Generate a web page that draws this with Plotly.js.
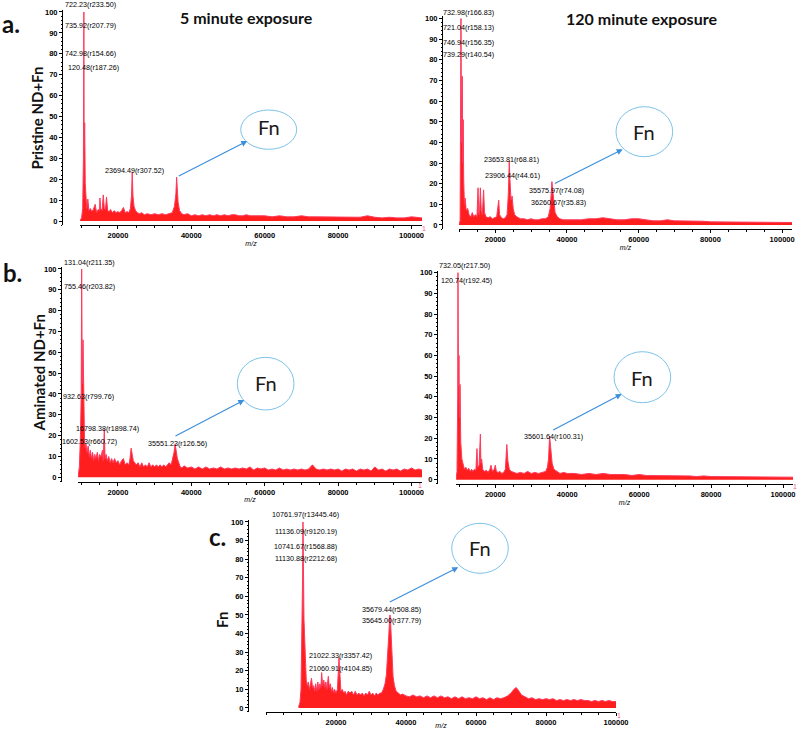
<!DOCTYPE html>
<html><head><meta charset="utf-8">
<script src="https://cdn.plot.ly/plotly-3.0.1.min.js"></script>
<style>html,body{margin:0;padding:0;background:#fff}#chart{width:797px;height:729px}</style>
</head><body><div id="chart"></div>
<script>
// ---------------- DATA: [m/z, relative intensity %] ----------------
const pristine5min = [
[9700,0.3],[10100,1.5],[10400,6],[10600,30],[10722,100],[10800,35],[10950,47],[11100,18],[11300,8],[11500,6],
[11800,10.5],[12100,5],[12500,6],[12900,4.5],[13300,5.5],[13800,8],[14200,4],[14600,5.5],[15000,5],[15100,11],
[15300,6],[15700,5],[16000,12.5],[16300,6],[16600,5.5],[16900,11.5],[17200,5],[17600,4.5],[18000,5.5],[18500,4],
[19000,5],[19500,4],[20000,4.5],[20500,4],[21000,5],[21500,6.5],[22000,4],[22500,4.5],[23000,4],[23400,6],
[23700,12],[23900,23.5],[24100,12],[24400,7],[24800,5],[25300,4],[25900,3.5],[26500,4],[27200,3],[28000,3.5],
[29000,3],[30000,3.5],[31000,3],[32000,3.5],[33000,3],[34000,3.5],[34800,4],[35400,7],[35800,13],[36000,21],
[36150,13],[36400,9],[36800,5],[37400,3.5],[38000,3],[39000,3.5],[40000,2.5],[41000,3],[42000,2.5],[43000,3],
[44000,2.5],[45000,3],[46000,2.5],[47000,3],[48000,2.5],[49000,3],[50000,2.5],[51000,3],[52000,3],[53000,2.5],
[54000,2.5],[55000,3],[56000,2.5],[57000,2.5],[58000,2.5],[60000,2.5],[62000,2],[64000,2.5],[66000,2],[68000,2],
[70000,2.5],[72000,2],[74000,2],[76000,2],[78000,2],[80000,2],[82000,1.8],[84000,2],[86000,1.8],[88000,2.5],
[90000,1.8],[92000,1.5],[94000,1.8],[96000,1.5],[98000,1.5],[100000,2],[102000,1.5],[102860,1.5]
];
const pristine120min = [
[9900,0.3],[10200,2],[10440,100],[10600,40],[10800,72],[10950,30],[11070,51],[11200,22],[11400,10],[11600,13],
[11900,7],[12300,8],[12700,5],[13200,4],[13600,6],[14000,4],[14500,5],[14900,4],[15200,18],[15400,6],
[15600,5],[15850,18],[16100,7],[16400,5],[16750,17],[17000,6],[17400,4],[18000,3.5],[18600,4],[19200,3],
[19800,3.5],[20400,4],[20970,12],[21200,5],[21700,3.5],[22300,3],[22800,3.5],[23300,5],[23650,15],[23900,31],
[24100,22],[24400,12],[24700,14],[25000,8],[25400,5],[26000,4],[27000,3],[28000,3],[29000,2.5],[30000,3],
[31000,2.5],[32000,2.5],[33000,3],[34000,3],[34800,4],[35300,8],[35600,15],[35800,21],[36000,17],[36300,12],
[36700,6],[37300,4],[38000,3],[39000,2.5],[40000,2.5],[42000,2.5],[44000,2.5],[46000,3],[48000,3],[50000,3.5],
[52000,3],[54000,2.5],[56000,2.5],[58000,3],[60000,3],[62000,2.5],[64000,2],[66000,2],[68000,2.5],[70000,2],
[72000,2],[74000,1.8],[76000,1.8],[78000,1.8],[80000,1.5],[84000,1.5],[88000,1.5],[92000,1.5],[96000,1.3],[100000,1.5],
[102750,1.2]
];
const aminated5min = [
[9150,0.5],[9500,5],[9800,20],[10000,40],[10130,100],[10300,45],[10500,66],[10700,30],[10900,18],[11100,14],
[11300,16],[11600,12],[11900,15],[12200,10],[12500,13],[12800,9],[13100,12],[13400,8],[13700,11],[14000,9],
[14400,12],[14700,8],[15000,11],[15400,10],[15800,13],[16000,8],[16300,23],[16500,9],[16800,11],[17100,8],
[17500,10],[17900,7],[18300,9],[18700,7],[19100,9],[19500,7],[20000,8],[20500,6],[21000,8],[21500,9],
[22000,6],[22500,7],[23000,6],[23300,9],[23600,14],[23900,11],[24200,8],[24600,7],[25000,6],[25500,7],
[26000,5],[26500,7],[27000,5],[27500,6],[28000,5],[28500,7],[29000,5],[29500,6],[30000,5],[30500,6],
[31000,5],[31500,6],[32000,5],[32500,6],[33000,5],[33500,6],[34000,7],[34500,6],[35000,9],[35300,12],
[35600,16],[35900,12],[36200,9],[36600,7],[37000,5],[37500,4.5],[38000,5.5],[39000,4.5],[40000,5],[41000,4],
[42000,5],[43000,4],[44000,5],[45000,4],[46000,4.5],[47000,4],[48000,5],[49000,4],[50000,4.5],[51000,4],
[52000,4.5],[53000,4],[54000,4.5],[55000,4],[56000,5],[57000,3.5],[58000,4.5],[59000,4],[60000,4.5],[61000,3.5],
[62000,4],[63000,3.5],[64000,4.5],[65000,3.5],[66000,4],[67000,3.5],[68000,4],[69000,3.5],[70000,4],[71000,3.5],
[72000,4],[73000,6],[74000,4],[75000,3.5],[76000,4],[77000,3.5],[78000,4],[79000,3.5],[80000,4],[81000,3],
[82000,4],[83000,3.5],[84000,4],[85000,3],[86000,4],[87000,3.5],[88000,4],[89000,3],[90000,5],[91000,3.5],
[92000,4],[93000,3],[94000,4],[95000,3.5],[96000,4],[97000,3],[98000,4],[99000,3.5],[100000,4.5],[101000,3.5],
[102000,4],[102860,3.5]
];
const aminated120min = [
[9100,0.5],[9350,4],[9550,40],[9620,100],[9750,45],[9900,60],[10050,30],[10200,46],[10400,18],[10700,10],
[11000,7],[11400,5],[11800,6],[12200,4.5],[12600,5.5],[13000,4],[13400,5],[13800,4],[14200,5],[14600,4.5],
[14900,15],[15100,6],[15500,7],[15850,22],[16000,8],[16200,10],[16500,5],[17000,4],[17500,4.5],[18000,3.5],
[18500,5],[18800,7],[19200,4],[19700,5],[20000,7],[20300,4],[20800,3.5],[21300,4],[21800,3],[22300,3.5],
[22800,5],[23200,17],[23500,9],[23900,5],[24400,4],[25000,3.5],[26000,3],[27000,3.5],[28000,3],[29000,4],
[30000,3],[31000,3.5],[32000,3],[33000,3.5],[34000,4],[34500,6],[34800,10],[35100,21],[35400,14],[35800,8],
[36300,5],[37000,4],[38000,3],[39000,3.5],[40000,3],[42000,3],[44000,2.5],[46000,3],[48000,2.5],[50000,3],
[52000,2.5],[54000,2.5],[56000,2.5],[58000,2],[60000,2.5],[62000,2],[64000,2],[66000,2],[68000,1.8],[70000,2],
[72000,1.8],[74000,1.8],[76000,1.5],[78000,1.8],[80000,1.5],[84000,1.5],[88000,1.5],[92000,1.3],[96000,1.3],[100000,1.2],
[102780,1.2]
];
const fnOnly = [
[9300,0.5],[9700,3],[10000,10],[10300,40],[10450,70],[10570,100],[10700,55],[10850,48],[11000,40],[11200,25],
[11500,15],[11800,12],[12100,14],[12400,10],[12700,13],[13000,16],[13300,11],[13600,12],[13900,9],[14200,13],
[14500,9],[14800,14],[15100,10],[15400,13],[15700,11],[15900,19],[16200,12],[16500,15],[16800,11],[17100,14],
[17400,10],[17800,17],[18100,11],[18400,13],[18700,9],[19000,11],[19300,8],[19600,10],[20000,8],[20400,10],
[20860,27],[21100,14],[21400,9],[21800,10],[22200,8],[22600,9],[23000,7],[23500,9],[24000,8],[24500,9],
[25000,7],[25500,9],[26000,7],[26500,8],[27000,7],[27500,8],[28000,6.5],[28500,8],[29000,7],[29500,9],
[30000,7],[30500,8],[31000,6.5],[31500,8],[32000,7],[32500,8],[33000,8],[33500,10],[34000,13],[34400,18],
[34800,28],[35100,40],[35300,47],[35400,50],[35550,48],[35750,38],[36000,26],[36300,17],[36700,12],[37200,9],
[37800,8],[38500,7],[39000,7.5],[40000,6.5],[41000,6],[42000,7],[43000,6],[44000,6.5],[45000,5.5],[46000,6.5],
[47000,5.5],[48000,6.5],[49000,5.5],[50000,6.5],[51000,5.5],[52000,6],[53000,5],[54000,6],[55000,5],[56000,6],
[57000,5],[58000,5.5],[59000,5],[60000,6],[61000,5],[62000,5.5],[63000,4.5],[64000,5.5],[65000,4.5],[66000,5.5],
[67000,5],[68000,5.5],[69000,6.5],[70000,8],[70800,10],[71500,11],[72300,9],[73000,7],[74000,6],[75000,5],
[76000,5.5],[77000,4.5],[78000,5],[79000,4.5],[80000,5],[81000,4.5],[82000,5],[83000,4],[84000,4.5],[85000,4],
[86000,4.5],[87000,4],[88000,4.5],[89000,4],[90000,4.5],[91000,4],[92000,4],[93000,3.5],[94000,4],[95000,3.5],
[96000,4],[97000,3.5],[98000,4],[99000,3.5],[100000,3.5]
];
const yTickVals = [0,10,20,30,40,50,60,70,80,90,100];
const xTickVals = [20000,40000,60000,80000,100000];
const labelsPristine5 = ["722.23(r233.50)","735.92(r207.79)","742.98(r154.66)","120.48(r187.26)","23694.49(r307.52)"];
const labelsPristine120 = ["732.98(r166.83)","721.04(r158.13)","746.94(r156.35)","739.29(r140.54)","23653.81(r68.81)","23906.44(r44.61)","35575.97(r74.08)","36260.67(r35.83)"];
const labelsAminated5 = ["131.04(r211.35)","755.46(r203.82)","932.63(r799.76)","16798.38(r1898.74)","1602.53(r660.72)","35551.23(r126.56)"];
const labelsAminated120 = ["732.05(r217.50)","120.74(r192.45)","35601.64(r100.31)"];
const labelsFn = ["10761.97(r13445.46)","11136.09(r9120.19)","10741.67(r1568.88)","11130.88(r2212.68)","35679.44(r508.85)","35645.00(r377.79)","21022.33(r3357.42)","21060.91(r4104.85)"];

// ---------------- LAYOUT (pixel geometry) ----------------
const W = 797, H = 729;
const px = v => v / W, py = v => 1 - v / H;
const tickFont = {family:'Arial, Liberation Sans, sans-serif', size:7.5, color:'#000', weight:'bold'};
const lblFont = {family:'Arial, Liberation Sans, sans-serif', size:7.2, color:'#000'};

function xAxis(d0, d1, r0, r1, anchor) {
  return {domain:[px(d0), px(d1)], range:[r0, r1], anchor:anchor,
    showline:true, linecolor:'#000', linewidth:1, ticks:'outside', ticklen:3, tickwidth:1, tickcolor:'#000',
    tickvals:xTickVals, ticktext:xTickVals.map(String), ticklabeloverflow:'allow',
    showgrid:false, zeroline:false, tickfont:tickFont,
    minor:{ticks:'outside', ticklen:2, dtick:5000, tick0:0, tickcolor:'#000', showgrid:false},
    title:{text:'<i>m/z</i>', font:{family:'Arial, sans-serif', size:7, color:'#000'}, standoff:0},
    fixedrange:true};
}
function yAxis(bot, top, pos) {
  return {domain:[py(bot), py(top)], range:[-2, 101], anchor:'free', position:px(pos),
    showline:true, linecolor:'#000', linewidth:1, ticks:'outside', ticklen:3, tickwidth:1, tickcolor:'#000',
    tickvals:yTickVals, ticktext:yTickVals.map(String), showgrid:false, zeroline:false, tickfont:tickFont,
    minor:{ticks:'outside', ticklen:1.5, dtick:2, tick0:0, tickcolor:'#000', showgrid:false},
    fixedrange:true};
}

const series = [pristine5min, pristine120min, aminated5min, aminated120min, fnOnly];
const traces = series.map((s, i) => ({
  type:'scatter', mode:'lines', x:s.map(p => p[0]), y:s.map(p => p[1]),
  xaxis:'x' + (i ? i + 1 : ''), yaxis:'y' + (i ? i + 1 : ''),
  fill:'tozeroy', fillcolor:'#ff1e1e', line:{color:'#ff3a5c', width:1}, hoverinfo:'skip', showlegend:false
}));

const annotations = [];
function txt(t, x, y, font, opts) {
  annotations.push(Object.assign({text:t, xref:'paper', yref:'paper', x:px(x), y:py(y),
    xanchor:'left', yanchor:'middle', showarrow:false, font:font}, opts || {}));
}
// peak labels
const pkPos = [
  [labelsPristine5, [[62.5,4.5],[62.5,26],[63,53.5],[65.5,67.7],[102.7,171]]],
  [labelsPristine120, [[440.7,12.3],[440.7,27.3],[440.7,42.7],[440.7,54],[482.3,159.3],[483.3,175],[526.7,191],[529.3,202.7]]],
  [labelsAminated5, [[62.3,262.3],[62,286],[61,396.7],[74,428.3],[60,441],[145.7,443]]],
  [labelsAminated120, [[436.7,265],[439.3,280.7],[521.7,436.7]]],
  [labelsFn, [[270,514.3],[272.7,531.7],[271.7,546.7],[272.7,558.3],[360,609],[360,620],[306.7,655.7],[306.7,668.3]]]
];
pkPos.forEach(([labels, pos]) => labels.forEach((t, i) => txt(t, pos[i][0], pos[i][1], lblFont)));

// panel letters, titles, y titles
const bigFont = {family:'Lato, Open Sans, sans-serif', size:24, color:'#111', weight:'bold'};
txt('a.', 0, 23, bigFont);
txt('b.', 1, 273, bigFont);
txt('c.', 207, 536, bigFont);
const titleFont = {family:'Lato, Open Sans, sans-serif', size:16, color:'#111', weight:'bold'};
txt('5 minute exposure', 246.5, 17, titleFont, {xanchor:'center'});
txt('120 minute exposure', 641.5, 18, titleFont, {xanchor:'center'});
const yTitleFont = {family:'Lato, Open Sans, sans-serif', size:15, color:'#111', weight:'bold'};
txt('Pristine ND+Fn', 37, 118.5, yTitleFont, {xanchor:'center', textangle:-90});
txt('Aminated ND+Fn', 38, 373.5, yTitleFont, {xanchor:'center', textangle:-90});
txt('Fn', 222, 620, yTitleFont, {xanchor:'center', textangle:-90});

// pink end markers
const pinkFont = {family:'Arial, sans-serif', size:7, color:'#f06090'};
txt('1', 420, 228, pinkFont);
txt('1', 416.5, 485, pinkFont);
txt('1', 790.5, 486.5, pinkFont);
txt('1', 615, 715, pinkFont);

// Fn callouts: circle bbox, label centre, arrow tail -> head
const callouts = [
  {c:[240.7,110,296.7,149.3], t:[268.5,127], tail:[177.3,176.7], head:[247.3,141]},
  {c:[616,106.7,672.7,156.7], t:[644,132], tail:[553.3,184.3], head:[622.7,149.3]},
  {c:[237.3,357.3,294,410], t:[266,383.5], tail:[174,436.7], head:[244.3,400]},
  {c:[614,351.7,670.7,402.7], t:[642.3,377.5], tail:[551.7,430.7], head:[621.7,394]},
  {c:[451.7,523.3,508.3,573.3], t:[480,548], tail:[388.3,602.7], head:[458.3,567.3]}
];
const shapes = [];
const fnFont = {family:'Lato, Open Sans, sans-serif', size:20, color:'#1a1a1a'};
callouts.forEach(o => {
  shapes.push({type:'circle', xref:'paper', yref:'paper', x0:px(o.c[0]), x1:px(o.c[2]), y0:py(o.c[3]), y1:py(o.c[1]),
    line:{color:'#7cc3ea', width:1}, fillcolor:'rgba(0,0,0,0)'});
  txt('Fn', o.t[0], o.t[1], fnFont, {xanchor:'center'});
  annotations.push({text:'', xref:'paper', yref:'paper', x:px(o.head[0]), y:py(o.head[1]),
    ax:o.tail[0]-o.head[0], ay:o.tail[1]-o.head[1], showarrow:true, arrowhead:2, arrowsize:1,
    arrowwidth:1.2, arrowcolor:'#3d8fdc', standoff:0, startstandoff:0});
});

const layout = {
  width:W, height:H, margin:{l:0, r:0, t:0, b:0}, paper_bgcolor:'#fff', plot_bgcolor:'#fff',
  showlegend:false,
  xaxis:  xAxis(80, 422, 9670, 102860, 'y'),
  yaxis:  yAxis(225.2, 9.9, 62),
  xaxis2: xAxis(459, 792, 9890, 102750, 'y2'),
  yaxis2: yAxis(229.1, 16.4, 442),
  xaxis3: xAxis(78, 422, 9130, 102860, 'y3'),
  yaxis3: yAxis(481.5, 266.9, 61),
  xaxis4: xAxis(456, 793, 9070, 102780, 'y4'),
  yaxis4: yAxis(483.8, 270.6, 437),
  xaxis5: xAxis(266, 616, 0, 100000, 'y5'),
  yaxis5: yAxis(711.7, 520.1, 248),
  annotations:annotations, shapes:shapes
};
Plotly.newPlot('chart', traces, layout, {staticPlot:true, displayModeBar:false});
</script></body></html>
